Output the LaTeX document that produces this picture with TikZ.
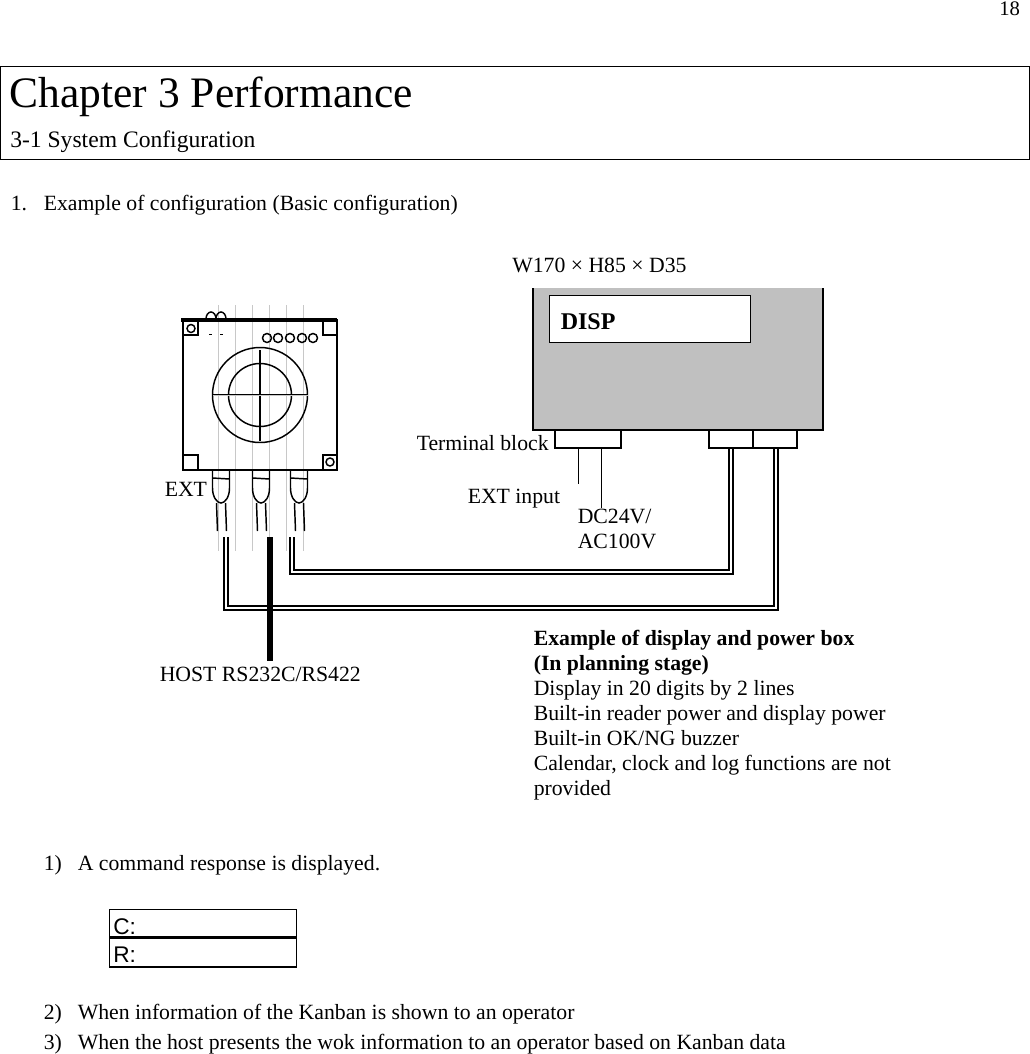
\documentclass[tikz,border=0pt]{standalone}
\usepackage{fontspec}
\setmainfont{Liberation Serif}
\newfontfamily\labelsans{Liberation Sans}
\definecolor{dispgray}{HTML}{C0C0C0}
\definecolor{guidegray}{HTML}{C8C8C8}

\begin{document}
\begin{tikzpicture}[x=0.75pt, y=-0.75pt, line cap=butt,
    txt/.style={anchor=base west, inner sep=0pt, font=\fontsize{16.3}{18}\selectfont},
    txtb/.style={txt, font=\fontsize{16.3}{18}\selectfont\bfseries},
    cellsans/.style={anchor=base west, inner sep=0pt, font=\fontsize{17}{18}\selectfont\labelsans},
    terminal/.style={draw, line width=1.5pt, fill=white, inner sep=0pt, minimum height=13.5pt},
    cable/.style={draw, line width=1.25pt, double distance=1.7pt, double=white},
    wire/.style={draw, line width=0.75pt},
    part/.style={draw, line width=1.1pt}]
    \useasboundingbox (0,0) rectangle (1030,1054);

    % Cabecera
    \node[txt, font=\fontsize{15.5}{18}\selectfont] (pagenum) at (999,15) {18};
    \draw[line width=0.75pt] (0.5,66) rectangle (1029.5,159);
    \node[txt, font=\fontsize{32.6}{36}\selectfont] (chapter) at (9.5,107) {Chapter 3 Performance};
    \node[txt, font=\fontsize{17.7}{18}\selectfont] (section) at (10,147) {3-1 System Configuration};
    \node[txt] (item1num) at (10.5,210) {1.};
    \node[txt] (item1) at (43.5,210) {Example of configuration (Basic configuration)};

    % Lector
    \foreach \x in {218,235,252,269,286,303}
        \draw[guidegray, line width=0.75pt] (\x,305) -- (\x,551);
    \draw[part, line width=1.5pt] (183,320) rectangle (337,470);
    \draw[line width=3pt] (181,320) -- (337,320);
    \draw[part] (206,319) arc[start angle=180, end angle=360, x radius=5, y radius=7];
    \draw[part] (216,319) arc[start angle=180, end angle=360, x radius=5, y radius=7];
    \draw[part] (184,335) -- (198,335) -- (198,322);
    \draw[part] (323,322) -- (323,335) -- (337,335);
    \draw[part] (184,455) -- (198,455) -- (198,470);
    \draw[part] (337,455) -- (323,455) -- (323,470);
    \draw[part] (191,328.5) circle (4);
    \draw[part] (330,462) circle (4);
    \draw[line width=0.7pt] (209,334) -- (212,334);
    \draw[line width=0.7pt] (220,334) -- (223,334);
    \foreach \x in {267,278,290,302,313}
        \draw[part] (\x,338) circle (4.5);
    \draw[part] (260,395) circle (47.5);
    \draw[part] (260,395) circle (31.5);
    \draw[line width=2.2pt] (260,350) -- (260,441);
    \draw[line width=2pt] (213,395) -- (308,395);
    \draw[guidegray, line width=0.5pt] (213,395) -- (308,395);

    % Conectores
    \foreach \x in {221,261,299} {
        \draw[part] (\x-8.5,470) -- (\x-8.5,488) .. controls (\x-8.5,497) and (\x-4,503) .. (\x,503)
            .. controls (\x+4,503) and (\x+8.5,497) .. (\x+8.5,488) -- (\x+8.5,470) -- cycle;
        \draw[part] (\x-8.5,478) -- (\x+8.5,479);
        \draw[part] (\x-4.5,503) -- (\x-3.5,531);
        \draw[part] (\x+4.5,503) -- (\x+5.5,531);
    }

    % Caja de display
    \fill[dispgray] (533,288) rectangle (823,430);
    \draw[line width=1.5pt] (533,288) -- (533,430) -- (823,430) -- (823,288);
    \node[draw, line width=0.75pt, fill=white, minimum width=151pt, minimum height=35.25pt,
        inner sep=0pt] (window) at (650,318.5) {};
    \node[txtb, font=\fontsize{18}{20}\selectfont\bfseries] (disp) at (560.5,329.5) {DISP};
    \node[terminal, minimum width=49.5pt] (termin) at (588,439) {};
    \node[terminal, minimum width=33pt] (termdisp) at (731,439) {};
    \node[terminal, minimum width=33pt] (termpow) at (775,439) {};

    % Puntos de cable
    \coordinate (extend) at (578,484);
    \coordinate (dcend) at (601,508);
    \coordinate (plugA) at (226,537);
    \coordinate (plugC) at (292,537);
    \coordinate (hostup) at (270,537);
    \coordinate (hostdown) at (270,661);

    % Cables
    \draw[wire] (termin.south -| extend) -- (extend);
    \draw[wire] (termin.south -| dcend) -- (dcend);
    \draw[cable] (plugA) |- (776,608) -- (termpow.south -| 776,0);
    \draw[cable] (plugC) |- (731,572) -- (termdisp.south -| 731,0);
    \draw[line width=4.5pt] (hostup) -- (hostdown);

    % Etiquetas
    \node[txt] (size) at (512,272) {W170 × H85 × D35};
    \node[txt] (termlabel) at (416.5,450) {Terminal block};
    \node[txt] (extinput) at (467.5,503) {EXT input};
    \node[txt] (dclabel) at (577.5,523) {DC24V/};
    \node[txt] (aclabel) at (577.5,548) {AC100V};
    \node[txt] (extlabel) at (164.5,496) {EXT};
    \node[txt] (hostlabel) at (159.5,681) {HOST RS232C/RS422};
    \node[txtb] (note1) at (533.5,645) {Example of display and power box};
    \node[txtb] (note2) at (533.5,670) {(In planning stage)};
    \node[txt] (note3) at (533.5,695) {Display in 20 digits by 2 lines};
    \node[txt] (note4) at (533.5,720) {Built-in reader power and display power};
    \node[txt] (note5) at (533.5,745) {Built-in OK/NG buzzer};
    \node[txt] (note6) at (533.5,770) {Calendar, clock and log functions are not};
    \node[txt] (note7) at (533.5,795) {provided};

    % Lista inferior
    \node[txt] (sub1num) at (43.5,870) {1)};
    \node[txt] (sub1) at (77.5,870) {A command response is displayed.};
    \draw[line width=0.75pt] (109,909) rectangle (296.5,967);
    \draw[line width=2pt] (109,937.5) -- (296.5,937.5);
    \draw[line width=2pt] (109,967) -- (296.5,967);
    \node[cellsans] (cellC) at (113,934) {C:};
    \node[cellsans] (cellR) at (113,962) {R:};
    \node[txt] (sub2num) at (43.5,1019) {2)};
    \node[txt] (sub2) at (77.5,1019) {When information of the Kanban is shown to an operator};
    \node[txt] (sub3num) at (43.5,1049) {3)};
    \node[txt] (sub3) at (77.5,1049) {When the host presents the wok information to an operator based on Kanban data};
\end{tikzpicture}
\end{document}
